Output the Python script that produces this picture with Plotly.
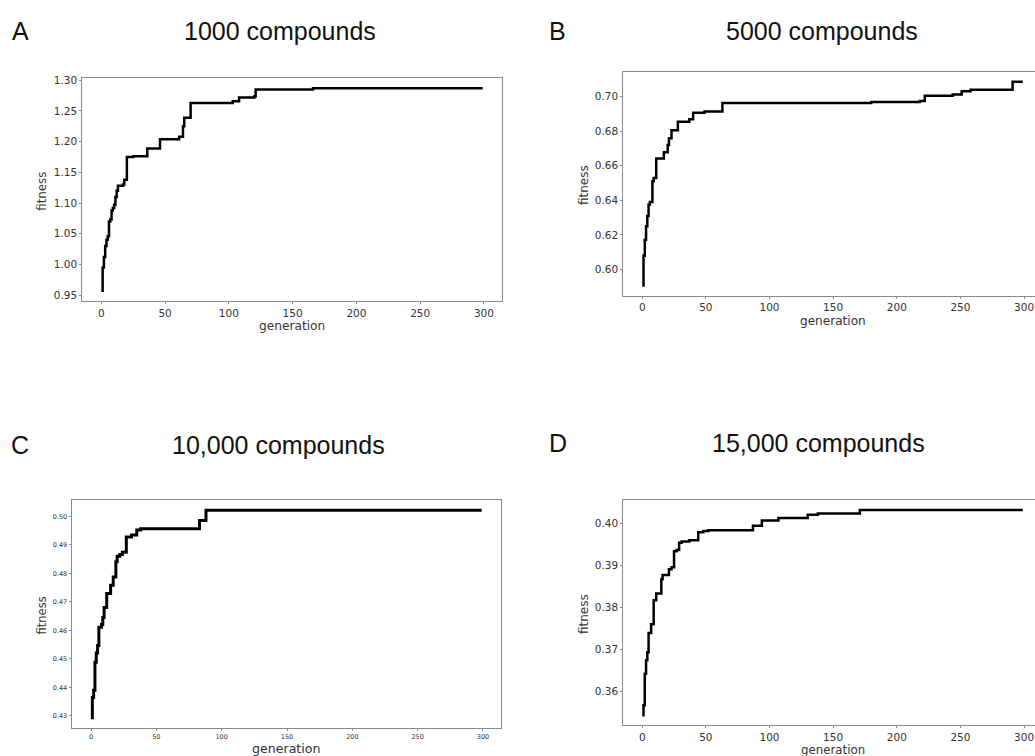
import plotly.graph_objects as go

W, H = 1035, 756

# ---------------- data (generation at which best fitness changed, fitness) ----------------
gen_A = [0, 1, 2, 3, 4, 5, 6, 7, 8, 9, 10, 11, 12, 13, 17, 18, 20, 25, 36, 46, 61, 64, 65, 70, 103, 108, 120, 121, 166, 299]
fit_A = [0.957, 0.995, 1.012, 1.030, 1.040, 1.046, 1.070, 1.073, 1.088, 1.092, 1.097, 1.110, 1.120, 1.128, 1.130, 1.138,
         1.175, 1.176, 1.189, 1.204, 1.208, 1.225, 1.239, 1.263, 1.266, 1.272, 1.274, 1.285, 1.287, 1.287]

gen_B = [0, 1, 2, 3, 4, 5, 6, 8, 9, 11, 17, 20, 21, 23, 28, 37, 40, 49, 63, 180, 218, 222, 244, 251, 258, 291, 299]
fit_B = [0.5908, 0.608, 0.6172, 0.625, 0.631, 0.6376, 0.639, 0.651, 0.6529, 0.6641, 0.6678, 0.672, 0.6758, 0.6805,
         0.6853, 0.6868, 0.6905, 0.6912, 0.6962, 0.6968, 0.6973, 0.7004, 0.7011, 0.7029, 0.7038, 0.7084, 0.7084]

gen_C = [0, 1, 2, 3, 4, 5, 6, 8, 9, 10, 12, 15, 17, 19, 20, 22, 24, 27, 31, 35, 38, 83, 88, 299]
fit_C = [0.4293, 0.4364, 0.4390, 0.4488, 0.4520, 0.4547, 0.4611, 0.4620, 0.4645, 0.4680, 0.4729, 0.4758, 0.4787,
         0.4840, 0.4860, 0.4866, 0.4874, 0.4927, 0.4934, 0.4952, 0.4956, 0.4985, 0.5021, 0.5021]

gen_D = [0, 1, 2, 3, 4, 5, 7, 9, 11, 15, 16, 21, 23, 25, 27, 29, 31, 37, 44, 48, 52, 87, 94, 107, 130, 138, 171, 299]
fit_D = [0.3543, 0.3567, 0.3642, 0.3674, 0.3693, 0.3739, 0.3760, 0.3817, 0.3833, 0.3867, 0.3877, 0.3891, 0.3896,
         0.3934, 0.3937, 0.3954, 0.3957, 0.3960, 0.3979, 0.3982, 0.3984, 0.3995, 0.4007, 0.4013, 0.4021, 0.4024,
         0.4032, 0.4032]

letters = ["A", "B", "C", "D"]
titles = ["1000 compounds", "5000 compounds", "10,000 compounds", "15,000 compounds"]
x_label = "generation"
y_label = "fitness"


def px_x(p):
    return p / W


def px_y(p):
    return 1 - p / H


def pad_range(vals, frac=0.05):
    lo, hi = min(vals), max(vals)
    d = (hi - lo) * frac
    return [lo - d, hi + d]


# panel geometry (pixels): frame left, right, top, bottom; x right range override
panels = [
    dict(gen=gen_A, fit=fit_A, frame=(82.3, 501.7, 74.5, 298.5), xr=None, dty=0.05, tick=10.5, mirror=True,
         letter=(20, 27.5), title=(280, 27.5), xl=(292, 323.5, 12.2), yl=(41.7, 188, 11.8), lw=2.5),
    dict(gen=gen_B, fit=fit_B, frame=(623.2, 1035, 68.0, 293.3), xr=308.6, dty=0.02, tick=10.5, mirror=False,
         letter=(557.5, 27.5), title=(821.7, 27.5), xl=(832.7, 319, 12.1), yl=(583.3, 181.7, 12), lw=2.5),
    dict(gen=gen_C, fit=fit_C, frame=(71.5, 501.2, 498.5, 728.1), xr=None, dty=0.01, tick=6.5, mirror=True,
         letter=(20, 443), title=(278, 443), xl=(286, 748.5, 12.6), yl=(41.7, 615, 11.5), lw=3),
    dict(gen=gen_D, fit=fit_D, frame=(623.2, 1035, 498.5, 725.3), xr=308.6, dty=0.01, tick=10.5, mirror=False,
         letter=(558, 441), title=(818, 441), xl=(832.7, 749.5, 11.8), yl=(583.3, 613, 12), lw=2.5),
]

fig = go.Figure()
layout = dict(width=W, height=H, margin=dict(l=0, r=0, t=0, b=0), paper_bgcolor="white",
              plot_bgcolor="white", showlegend=False)
annotations = []
frame_col = "#8a8a8a"
tick_col = "#333333"

for i, p in enumerate(panels):
    n = "" if i == 0 else str(i + 1)
    fig.add_trace(go.Scatter(x=p["gen"], y=p["fit"], mode="lines", line=dict(color="black", width=p["lw"], shape="hv"),
                             xaxis="x" + n, yaxis="y" + n, hoverinfo="x+y"))
    l, r, t, b = p["frame"]
    xr = pad_range(p["gen"])
    if p["xr"] is not None:
        xr[1] = p["xr"]
    yr = pad_range(p["fit"])
    layout["xaxis" + n] = dict(domain=[px_x(l), px_x(r)], range=xr, anchor="y" + n, showgrid=False, zeroline=False,
                               showline=True, mirror=True, linecolor=frame_col, linewidth=1,
                               ticks="outside", ticklen=2, tickcolor=frame_col, tickmode="linear", tick0=0, dtick=50,
                               tickfont=dict(family="DejaVu Sans", size=p["tick"], color=tick_col))
    layout["yaxis" + n] = dict(domain=[px_y(b), px_y(t)], range=yr, anchor="x" + n, showgrid=False, zeroline=False,
                               showline=True, mirror=p["mirror"], linecolor=frame_col, linewidth=1,
                               ticks="outside", ticklen=2, tickcolor=frame_col, tickmode="linear", tick0=0,
                               dtick=p["dty"], tickformat=".2f",
                               tickfont=dict(family="DejaVu Sans", size=p["tick"], color=tick_col))
    annotations.append(dict(text=letters[i], x=px_x(p["letter"][0]), y=px_y(p["letter"][1]), xref="paper",
                            yref="paper", showarrow=False, xanchor="center", yanchor="middle",
                            font=dict(family="Liberation Sans", size=25, color="#111111")))
    annotations.append(dict(text=titles[i], x=px_x(p["title"][0]), y=px_y(p["title"][1]), xref="paper",
                            yref="paper", showarrow=False, xanchor="center", yanchor="middle",
                            font=dict(family="Liberation Sans", size=25, color="#111111")))
    annotations.append(dict(text=x_label, x=px_x(p["xl"][0]), y=px_y(p["xl"][1]), xref="paper", yref="paper",
                            showarrow=False, xanchor="center", yanchor="middle",
                            font=dict(family="DejaVu Sans", size=p["xl"][2], color=tick_col)))
    annotations.append(dict(text=y_label, x=px_x(p["yl"][0]), y=px_y(p["yl"][1]), xref="paper", yref="paper",
                            showarrow=False, xanchor="center", yanchor="middle", textangle=-90,
                            font=dict(family="DejaVu Sans", size=p["yl"][2], color=tick_col)))

layout["annotations"] = annotations
fig.update_layout(**layout)
fig.write_html("out.html", config={"displayModeBar": False},
               post_script="document.body.style.margin='0';document.body.style.overflow='hidden';")
